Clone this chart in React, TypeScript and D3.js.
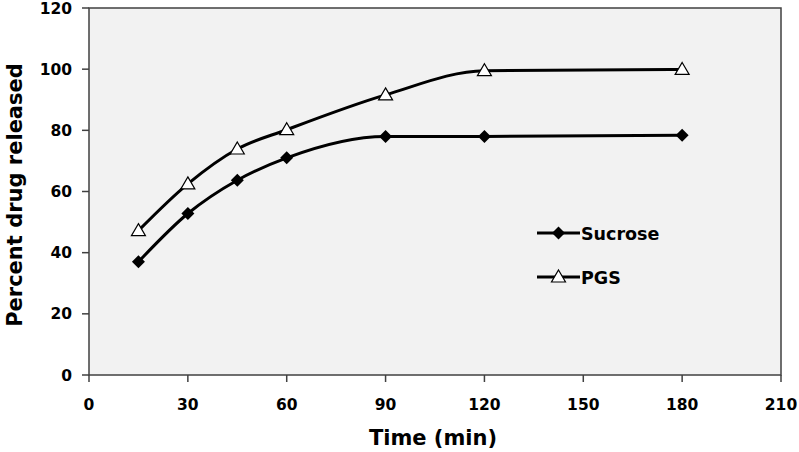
import React from "react";
import * as d3 from "d3";

const times = [15, 30, 45, 60, 90, 120, 180];
const sucrose = [37, 52.8, 63.7, 71, 78, 78, 78.4];
const pgs = [47.2, 62.5, 73.9, 80.2, 91.6, 99.5, 99.9];
const xTicks = [0, 30, 60, 90, 120, 150, 180, 210];
const yTicks = [0, 20, 40, 60, 80, 100, 120];
const seriesNames = ["Sucrose", "PGS"];

const W = 799, H = 452;
const L = 89, R = 781, T = 8, B = 375;
const FONT = "'DejaVu Sans', Verdana, sans-serif";

export default function App() {
  const x = d3.scaleLinear().domain([0, 210]).range([L, R]);
  const y = d3.scaleLinear().domain([0, 120]).range([B, T]);
  const line = d3
    .line<[number, number]>()
    .x((d) => x(d[0]))
    .y((d) => y(d[1]))
    .curve(d3.curveMonotoneX);
  const sData = times.map((t, i) => [t, sucrose[i]] as [number, number]);
  const pData = times.map((t, i) => [t, pgs[i]] as [number, number]);

  const diamond = (cx: number, cy: number, r = 6.5) =>
    `M${cx},${cy - r}L${cx + r},${cy}L${cx},${cy + r}L${cx - r},${cy}Z`;
  const tri = (cx: number, cy: number) =>
    `M${cx},${cy - 7}L${cx + 7},${cy + 5}L${cx - 7},${cy + 5}Z`;

  const legY = [233, 277];
  const legX0 = 537, legX1 = 580;

  return (
    <svg width={W} height={H} style={{ position: "absolute", left: 0, top: 0, background: "#fff" }}>
      <rect x={L} y={T} width={R - L} height={B - T} fill="#f2f2f2" stroke="#404040" strokeWidth={1.5} />
      {xTicks.map((t) => (
        <g key={"x" + t}>
          <line x1={x(t)} x2={x(t)} y1={B} y2={B + 7} stroke="#404040" strokeWidth={1.5} />
          <text x={x(t)} y={B + 35} textAnchor="middle" fontFamily={FONT} fontSize={15.5} fontWeight="bold" fill="#000">
            {t}
          </text>
        </g>
      ))}
      {yTicks.map((t) => (
        <g key={"y" + t}>
          <line x1={L - 7} x2={L} y1={y(t)} y2={y(t)} stroke="#404040" strokeWidth={1.5} />
          <text x={L - 17} y={y(t) + 5.5} textAnchor="end" fontFamily={FONT} fontSize={15.5} fontWeight="bold" fill="#000">
            {t}
          </text>
        </g>
      ))}
      <path d={line(pData) || ""} fill="none" stroke="#000" strokeWidth={3} />
      <path d={line(sData) || ""} fill="none" stroke="#000" strokeWidth={3} />
      {sData.map((d, i) => (
        <path key={"s" + i} d={diamond(x(d[0]), y(d[1]))} fill="#000" />
      ))}
      {pData.map((d, i) => (
        <path key={"p" + i} d={tri(x(d[0]), y(d[1]))} fill="#fff" stroke="#000" strokeWidth={1.2} />
      ))}
      {seriesNames.map((n, i) => (
        <g key={n}>
          <line x1={legX0} x2={legX1} y1={legY[i]} y2={legY[i]} stroke="#000" strokeWidth={3} />
          {i === 0 ? (
            <path d={diamond((legX0 + legX1) / 2, legY[i])} fill="#000" />
          ) : (
            <path d={tri((legX0 + legX1) / 2, legY[i])} fill="#fff" stroke="#000" strokeWidth={1.2} />
          )}
          <text x={legX1 + 1} y={legY[i] + 6.5} fontFamily={FONT} fontSize={17.5} fontWeight="bold" fill="#000">
            {n}
          </text>
        </g>
      ))}
      <text x={(L + R) / 2 - 2} y={445} textAnchor="middle" fontFamily={FONT} fontSize={21} fontWeight="bold" fill="#000">
        Time (min)
      </text>
      <text
        transform={`translate(22,195) rotate(-90)`}
        textAnchor="middle"
        fontFamily={FONT}
        fontSize={21}
        fontWeight="bold"
        fill="#000"
      >
        Percent drug released
      </text>
    </svg>
  );
}
